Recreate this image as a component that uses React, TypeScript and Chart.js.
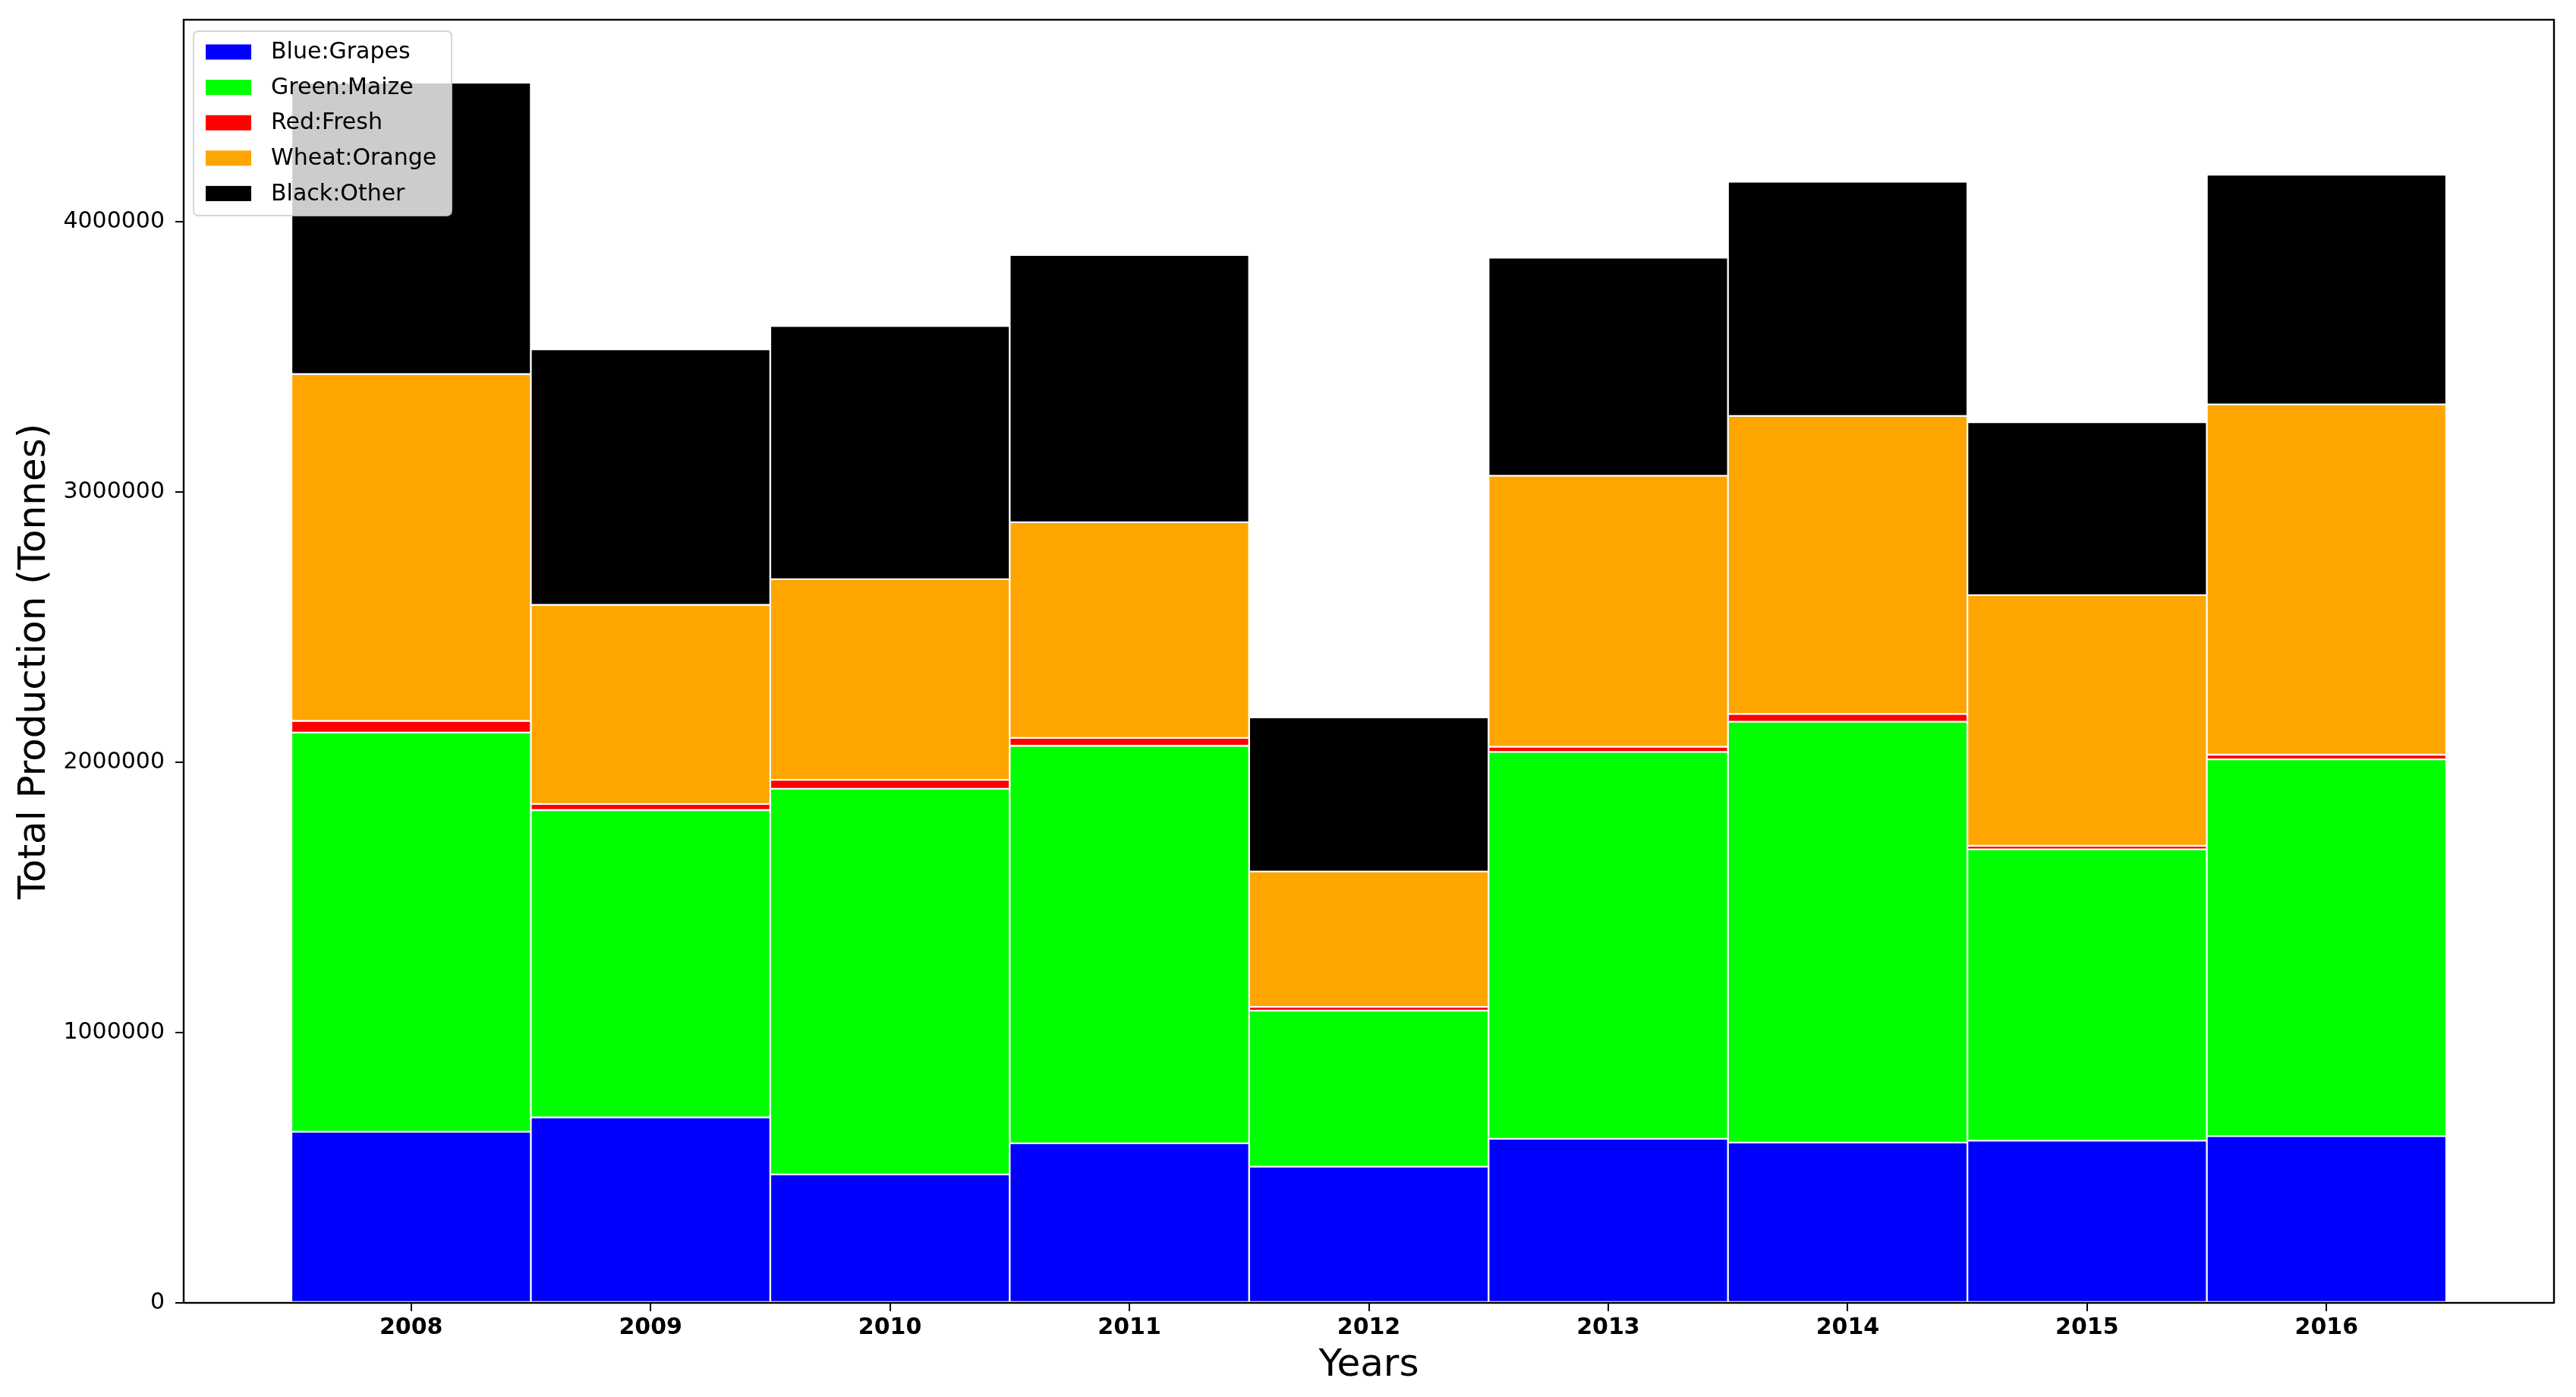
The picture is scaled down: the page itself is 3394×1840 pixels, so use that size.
import React, { useEffect, useRef } from "react";
import { Chart, registerables } from "chart.js";

Chart.register(...registerables);

// ---- data ----
const years = [2008, 2009, 2010, 2011, 2012, 2013, 2014, 2015, 2016];
const grapes = [633000, 686000, 475000, 590000, 504000, 607000, 593000, 600000, 617000];
const maize = [1477000, 1137000, 1427000, 1471000, 577000, 1431000, 1557000, 1078000, 1394000];
const fresh = [43000, 23000, 33000, 29000, 14000, 19000, 29000, 13000, 17000];
const orangeWheat = [1283000, 736000, 742000, 798000, 501000, 1003000, 1102000, 927000, 1296000];
const other = [1078000, 946000, 937000, 989000, 570000, 807000, 867000, 640000, 850000];
const yTickValues = [0, 1000000, 2000000, 3000000, 4000000];
const seriesLabels = ["Blue:Grapes", "Green:Maize", "Red:Fresh", "Wheat:Orange", "Black:Other"];
const seriesColors = ["#0000ff", "#00ff00", "#ff0000", "#ffa500", "#000000"];
const seriesValues = [grapes, maize, fresh, orangeWheat, other];
const xAxisTitle = "Years";
const yAxisTitle = "Total Production (Tonnes)";

const W = 3394;
const H = 1840;
const FONT = "'DejaVu Sans', sans-serif";

const framePlugin = {
  id: "frame",
  afterDatasetsDraw(chart: any) {
    const { ctx, chartArea } = chart;
    ctx.save();
    ctx.strokeStyle = "#000";
    ctx.lineWidth = 2.4;
    ctx.strokeRect(chartArea.left, chartArea.top, chartArea.right - chartArea.left, chartArea.bottom - chartArea.top);
    ctx.restore();
  },
};

function roundRect(ctx: CanvasRenderingContext2D, x: number, y: number, w: number, h: number, r: number) {
  ctx.beginPath();
  ctx.moveTo(x + r, y);
  ctx.lineTo(x + w - r, y);
  ctx.quadraticCurveTo(x + w, y, x + w, y + r);
  ctx.lineTo(x + w, y + h - r);
  ctx.quadraticCurveTo(x + w, y + h, x + w - r, y + h);
  ctx.lineTo(x + r, y + h);
  ctx.quadraticCurveTo(x, y + h, x, y + h - r);
  ctx.lineTo(x, y + r);
  ctx.quadraticCurveTo(x, y, x + r, y);
  ctx.closePath();
}

const legendPlugin = {
  id: "innerLegend",
  afterDraw(chart: any) {
    const { ctx, chartArea } = chart;
    const bx = chartArea.left + 13;
    const by = chartArea.top + 15;
    const bw = 340;
    const bh = 243;
    ctx.save();
    roundRect(ctx, bx, by, bw, bh, 7);
    ctx.fillStyle = "rgba(255,255,255,0.8)";
    ctx.fill();
    ctx.strokeStyle = "rgba(204,204,204,0.8)";
    ctx.lineWidth = 2;
    ctx.stroke();
    ctx.font = `30px ${FONT}`;
    ctx.textBaseline = "middle";
    ctx.textAlign = "left";
    seriesLabels.forEach((lab, i) => {
      const cy = by + 27.5 + i * 46.6;
      ctx.fillStyle = seriesColors[i];
      ctx.fillRect(bx + 16, cy - 10, 60, 20);
      ctx.fillStyle = "#000";
      ctx.fillText(lab, bx + 102, cy + 1);
    });
    ctx.restore();
  },
};

export default function App() {
  const ref = useRef<HTMLCanvasElement | null>(null);

  useEffect(() => {
    if (!ref.current) return;
    const datasets = seriesValues.map((vals, i) => ({
      label: seriesLabels[i],
      data: years.map((yr, j) => ({ x: yr, y: vals[j] })),
      backgroundColor: seriesColors[i],
      borderColor: "#ffffff",
      borderWidth: 1.5,
      borderSkipped: false as any,
      barPercentage: 1,
      categoryPercentage: 1,
    }));
    const chart = new Chart(ref.current, {
      type: "bar",
      data: { datasets } as any,
      options: {
        responsive: false,
        animation: false,
        devicePixelRatio: 1,
        layout: { padding: { top: 26, right: 29, left: 0, bottom: 0 } },
        plugins: {
          legend: { display: false },
          tooltip: { enabled: false },
        },
        scales: {
          x: {
            type: "linear",
            stacked: true,
            offset: false,
            min: years[0] - 0.95,
            max: years[years.length - 1] + 0.95,
            afterBuildTicks: (scale: any) => {
              scale.ticks = years.map((v) => ({ value: v }));
            },
            afterFit: (scale: any) => {
              scale.height = H - 1716;
              scale.paddingLeft = 0;
              scale.paddingRight = 0;
            },
            grid: {
              offset: false,
              drawOnChartArea: false,
              drawTicks: true,
              tickLength: 11,
              tickWidth: 2,
              lineWidth: 2,
              tickColor: "#000",
              color: "#000",
            },
            border: { display: false },
            ticks: {
              color: "#000",
              padding: 4,
              maxRotation: 0,
              autoSkip: false,
              font: { family: FONT, size: 30, weight: "bold" },
              callback: (v: any) => String(v),
            },
            title: {
              display: true,
              text: xAxisTitle,
              color: "#000",
              font: { family: FONT, size: 50 },
              padding: { top: 0, bottom: 11 },
            },
          } as any,
          y: {
            type: "linear",
            stacked: true,
            min: 0,
            max: 4747000,
            afterBuildTicks: (scale: any) => {
              scale.ticks = yTickValues.map((v) => ({ value: v }));
            },
            afterFit: (scale: any) => {
              scale.width = 242;
              scale.paddingTop = 0;
              scale.paddingBottom = 0;
            },
            grid: {
              drawOnChartArea: false,
              drawTicks: true,
              tickLength: 11,
              tickWidth: 2,
              lineWidth: 2,
              tickColor: "#000",
              color: "#000",
            },
            border: { display: false },
            ticks: {
              color: "#000",
              padding: 14,
              font: { family: FONT, size: 30 },
              callback: (v: any) => String(v),
            },
            title: {
              display: true,
              text: yAxisTitle,
              color: "#000",
              font: { family: FONT, size: 50 },
              padding: { top: 16, bottom: 0 },
            },
          } as any,
        },
      },
      plugins: [framePlugin, legendPlugin],
    });
    return () => chart.destroy();
  }, []);

  return (
    <div style={{ position: "fixed", left: 0, top: 0, width: W, height: H, background: "#fff" }}>
      <canvas ref={ref} width={W} height={H} style={{ display: "block", width: W, height: H }} />
    </div>
  );
}
